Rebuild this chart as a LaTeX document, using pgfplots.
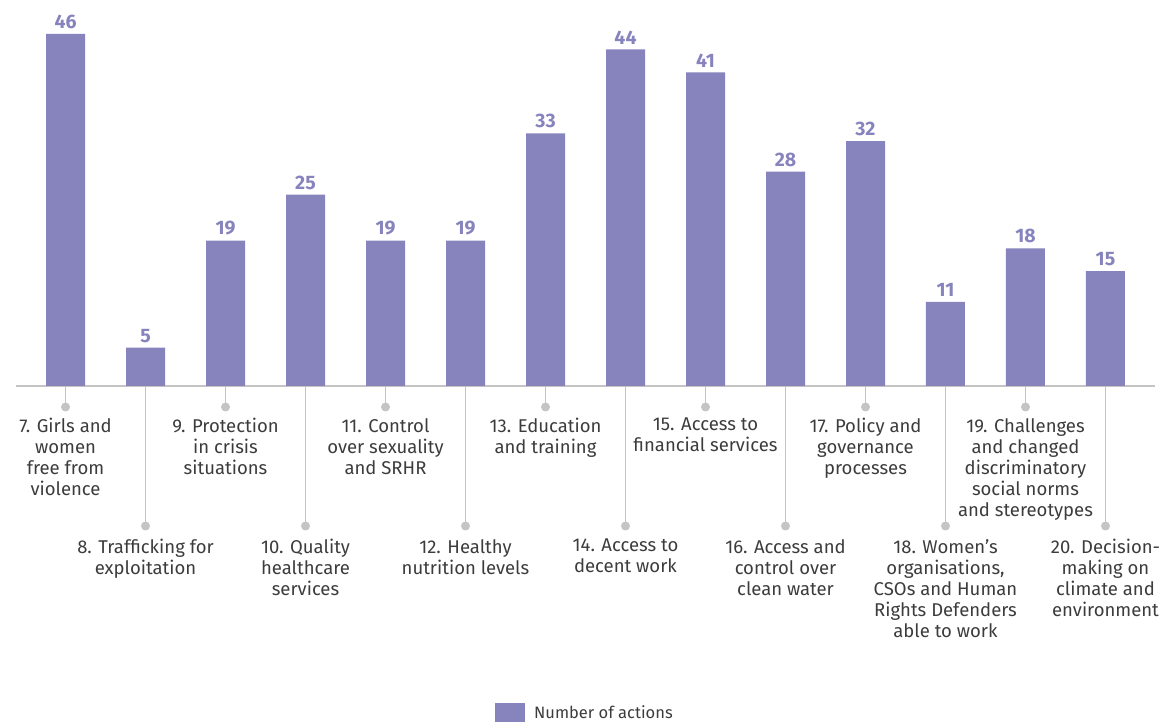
\documentclass[border=0pt]{standalone}
\usepackage{pgfplots}
\pgfplotsset{compat=1.18}
\usepackage{fontspec}
\setmainfont{Fira Sans}
\definecolor{barpurple}{HTML}{8783BD}
\definecolor{txtgrey}{HTML}{3C3C3C}
\definecolor{lead}{HTML}{C4C4C4}

% leader line, dot and label above (u) or below (l)
\newcommand{\upl}[2]{%
  \draw[lead, line width=1.5pt] (axis cs:#1,0) -- ([yshift=-21pt]axis cs:#1,0);
  \fill[lead] ([yshift=-21pt]axis cs:#1,0) circle (4.5pt);
  \node[anchor=north, lbl] at ([yshift=-32pt]axis cs:#1,0) {#2};}
\newcommand{\lol}[2]{%
  \draw[lead, line width=1.5pt] (axis cs:#1,0) -- ([yshift=-140pt]axis cs:#1,0);
  \fill[lead] ([yshift=-140pt]axis cs:#1,0) circle (4.5pt);
  \node[anchor=north, lbl] at ([yshift=-153pt]axis cs:#1,0) {#2};}

\begin{document}
\begin{tikzpicture}[x=1pt,y=1pt,
  lbl/.style={align=center, inner sep=0pt, text=txtgrey,
    font=\fontsize{18.5}{21}\selectfont}]
\useasboundingbox (0,0) rectangle (1165,722);
\begin{axis}[
  at={(16pt,336pt)}, anchor=south west,
  scale only axis, width=1139pt, height=352pt,
  xmin=-0.619, xmax=13.619, ymin=0, ymax=46,
  axis x line*=bottom, axis y line=none,
  axis line style={draw=lead, line width=1.2pt},
  xtick=\empty, ytick=\empty,
  clip=false,
  /pgf/number format/assume math mode=true,
  ybar, bar width=39pt,
  nodes near coords,
  every node near coord/.append style={inner sep=0pt, yshift=5pt,
    text=barpurple, font=\bfseries\fontsize{19.5}{19.5}\selectfont},
  legend style={draw=none, fill=none, inner sep=0pt,
    at={(0.4205,-0.90)}, anchor=north west,
    font=\fontsize{16.5}{16.5}\selectfont, text=txtgrey,
    nodes={inner sep=2pt}},
  legend image code/.code={\fill[#1] (0pt,-9.5pt) rectangle (30pt,9.5pt);
    \path (37pt,0pt);},
]
\addplot[fill=barpurple, draw=none] coordinates {
  (0,46) (1,5) (2,19) (3,25) (4,19) (5,19) (6,33)
  (7,44) (8,41) (9,28) (10,32) (11,11) (12,18) (13,15)
};
\addlegendentry{Number of actions}

\upl{0}{7. Girls and\\women\\free from\\violence}
\lol{1}{8. Trafficking for\\exploitation}
\upl{2}{9. Protection\\in crisis\\situations}
\lol{3}{10. Quality\\healthcare\\services}
\upl{4}{11. Control\\over sexuality\\and SRHR}
\lol{5}{12. Healthy\\nutrition levels}
\upl{6}{13. Education\\and training}
\lol{7}{14. Access to\\decent work}
\upl{8}{15. Access to\\financial services}
\lol{9}{16. Access and\\control over\\clean water}
\upl{10}{17. Policy and\\governance\\processes}
\lol{11}{18. Women’s\\organisations,\\CSOs and Human\\Rights Defenders\\able to work}
\upl{12}{19. Challenges\\and changed\\discriminatory\\social norms\\and stereotypes}
\lol{13}{20. Decision-\\making on\\climate and\\environment}
\end{axis}
\end{tikzpicture}
\end{document}
